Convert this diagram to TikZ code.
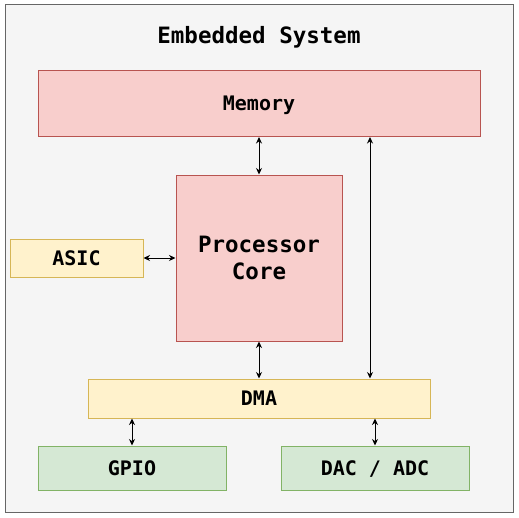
\documentclass[tikz,border=0pt]{standalone}
\usepackage{fontspec}
\setmonofont{DejaVu Sans Mono}
\usetikzlibrary{arrows.meta}
\definecolor{redfill}{HTML}{F8CECC}
\definecolor{redline}{HTML}{B85450}
\definecolor{yelfill}{HTML}{FFF2CC}
\definecolor{yelline}{HTML}{D6B656}
\definecolor{grnfill}{HTML}{D5E8D4}
\definecolor{grnline}{HTML}{82B366}
\definecolor{bgfill}{HTML}{F5F5F5}
\definecolor{bgline}{HTML}{666666}
\tikzset{
  box/.style={rectangle, inner sep=0pt, line width=1pt, font=\ttfamily\bfseries\fontsize{20}{24}\selectfont, align=center, text height=14.6pt, text depth=0pt},
  redbox/.style={box, fill=redfill, draw=redline},
  yelbox/.style={box, fill=yelfill, draw=yelline},
  grnbox/.style={box, fill=grnfill, draw=grnline},
  arr/.style={{Stealth[length=6.5pt,width=6pt]}-{Stealth[length=6.5pt,width=6pt]}, line width=1pt, black}
}
\begin{document}
\begin{tikzpicture}[x=1pt,y=-1pt]
\useasboundingbox (0,0) rectangle (519,517);
\node[rectangle, inner sep=0pt, fill=bgfill, draw=bgline, line width=1pt, minimum width=508pt, minimum height=508pt] (frame) at (259,258) {};
\node[font=\ttfamily\bfseries\fontsize{22.5}{27}\selectfont, inner sep=0pt, anchor=base] (title) at (259,43.5) {Embedded System};
\node[redbox, minimum width=442pt, minimum height=66pt] (mem) at (259,103.5) {Memory};
\node[redbox, minimum width=166pt, minimum height=166pt, font=\ttfamily\bfseries\fontsize{22.5}{27}\selectfont, text height=, text depth=] (proc) at (259,258) {Processor\\Core};
\node[yelbox, minimum width=133pt, minimum height=38pt] (asic) at (76.5,258) {ASIC};
\node[yelbox, minimum width=342pt, minimum height=39pt] (dma) at (259,398.5) {DMA};
\node[grnbox, minimum width=188pt, minimum height=44pt] (gpio) at (132,468) {GPIO};
\node[grnbox, minimum width=188pt, minimum height=44pt] (dac) at (375,468) {DAC / ADC};
\draw[arr] (mem) -- (proc);
\draw[arr] ([xshift=111pt]mem.south) -- ([xshift=111pt]dma.north);
\draw[arr] (asic) -- (proc);
\draw[arr] (proc) -- (dma);
\draw[arr] (gpio.north |- dma.south) -- (gpio.north);
\draw[arr] (dac.north |- dma.south) -- (dac.north);
\end{tikzpicture}
\end{document}
